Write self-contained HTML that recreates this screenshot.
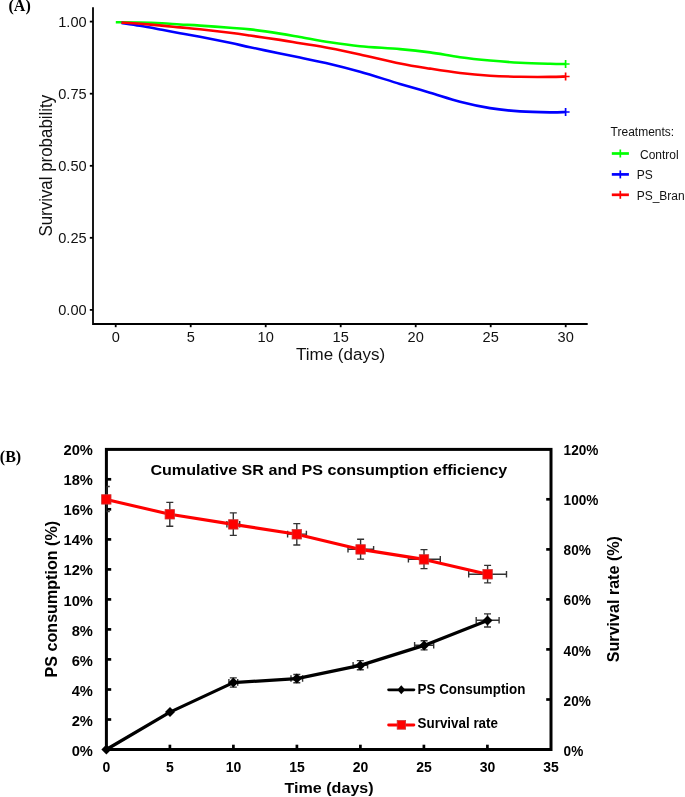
<!DOCTYPE html>
<html><head><meta charset="utf-8"><title>Survival charts</title>
<style>
html,body{margin:0;padding:0;background:#fff;}
svg{display:block;will-change:transform;}
text{font-family:"Liberation Sans",sans-serif;fill:#000;}
.lab{font-family:"Liberation Serif",serif;font-weight:bold;font-size:16px;}
.axA{stroke:#000;stroke-width:1.8;fill:none;}
.tkA{font-size:14.6px;fill:#111;}
.ttlA{font-size:17px;fill:#111;}
.ttlA2{font-size:16.9px;fill:#111;}
.cv{fill:none;stroke-width:2.6;stroke-linejoin:round;}
.cr{fill:none;stroke-width:1.7;}
.lg{font-size:12px;fill:#111;}
.tkB{stroke:#000;stroke-width:2.7;}
.tlB{font-size:14.7px;font-weight:bold;}
.trB{font-size:13.6px;font-weight:bold;}
.txB{font-size:14px;font-weight:bold;}
.box{fill:none;stroke:#000;stroke-width:3;}
.tiB{font-size:16.1px;font-weight:bold;}
.axtB{font-size:16.1px;font-weight:bold;}
.lgB{font-size:13.4px;font-weight:bold;}
.eb{fill:none;stroke:#333;stroke-width:1.4;}
.lnk{fill:none;stroke:#000;stroke-width:3.2;stroke-linejoin:round;stroke-linecap:round;}
.lnr{fill:none;stroke:#ff0000;stroke-width:3.1;stroke-linejoin:round;stroke-linecap:round;}
.dm{fill:#000;}
.sq{fill:#ff0000;stroke:#cc3333;stroke-width:0.8;}
</style></head>
<body>
<svg width="685" height="797" viewBox="0 0 685 797">
<text x="8.5" y="10.8" class="lab">(A)</text>
<path d="M93,7.3 V324 H587.7" class="axA"/>
<path d="M89.8,21.6 H93" class="axA"/>
<text transform="translate(86.60,26.90) scale(1,1.04)" class="tkA" text-anchor="end">1.00</text>
<path d="M89.8,93.7 H93" class="axA"/>
<text transform="translate(86.60,98.98) scale(1,1.04)" class="tkA" text-anchor="end">0.75</text>
<path d="M89.8,165.8 H93" class="axA"/>
<text transform="translate(86.60,171.06) scale(1,1.04)" class="tkA" text-anchor="end">0.50</text>
<path d="M89.8,237.8 H93" class="axA"/>
<text transform="translate(86.60,243.14) scale(1,1.04)" class="tkA" text-anchor="end">0.25</text>
<path d="M89.8,309.9 H93" class="axA"/>
<text transform="translate(86.60,315.20) scale(1,1.04)" class="tkA" text-anchor="end">0.00</text>
<path d="M115.7,324 V327.2" class="axA"/>
<text transform="translate(115.70,341.70) scale(1,1.04)" class="tkA" text-anchor="middle">0</text>
<path d="M190.7,324 V327.2" class="axA"/>
<text transform="translate(190.70,341.70) scale(1,1.04)" class="tkA" text-anchor="middle">5</text>
<path d="M265.7,324 V327.2" class="axA"/>
<text transform="translate(265.70,341.70) scale(1,1.04)" class="tkA" text-anchor="middle">10</text>
<path d="M340.7,324 V327.2" class="axA"/>
<text transform="translate(340.70,341.70) scale(1,1.04)" class="tkA" text-anchor="middle">15</text>
<path d="M415.7,324 V327.2" class="axA"/>
<text transform="translate(415.70,341.70) scale(1,1.04)" class="tkA" text-anchor="middle">20</text>
<path d="M490.7,324 V327.2" class="axA"/>
<text transform="translate(490.70,341.70) scale(1,1.04)" class="tkA" text-anchor="middle">25</text>
<path d="M565.7,324 V327.2" class="axA"/>
<text transform="translate(565.70,341.70) scale(1,1.04)" class="tkA" text-anchor="middle">30</text>
<text transform="translate(296.00,360.00) scale(1,0.98)" class="ttlA">Time (days)</text>
<text transform="translate(52.00,236.60) rotate(-90) scale(1,1.04)" class="ttlA2">Survival probability</text>
<path d="M115.80,22.30 C119.83,22.33 132.30,22.33 140.00,22.50 C147.70,22.67 155.33,22.97 162.00,23.30 C168.67,23.63 173.67,24.12 180.00,24.50 C186.33,24.88 191.67,25.05 200.00,25.60 C208.33,26.15 221.67,27.17 230.00,27.80 C238.33,28.43 241.67,28.43 250.00,29.40 C258.33,30.37 271.67,32.33 280.00,33.60 C288.33,34.87 291.67,35.55 300.00,37.00 C308.33,38.45 320.00,40.77 330.00,42.30 C340.00,43.83 348.33,45.07 360.00,46.20 C371.67,47.33 388.33,48.07 400.00,49.10 C411.67,50.13 420.00,51.05 430.00,52.40 C440.00,53.75 450.00,55.85 460.00,57.20 C470.00,58.55 480.00,59.58 490.00,60.50 C500.00,61.42 510.00,62.15 520.00,62.70 C530.00,63.25 542.40,63.58 550.00,63.80 C557.60,64.02 563.00,63.97 565.60,64.00" class="cv" stroke="#00ff00"/>
<path d="M121.50,22.90 C124.58,23.38 133.25,24.65 140.00,25.80 C146.75,26.95 155.33,28.57 162.00,29.80 C168.67,31.03 173.67,32.05 180.00,33.20 C186.33,34.35 191.67,35.10 200.00,36.70 C208.33,38.30 221.67,41.05 230.00,42.80 C238.33,44.55 241.67,45.42 250.00,47.20 C258.33,48.98 271.67,51.77 280.00,53.50 C288.33,55.23 291.67,55.87 300.00,57.60 C308.33,59.33 320.00,61.55 330.00,63.90 C340.00,66.25 348.33,68.37 360.00,71.70 C371.67,75.03 388.33,80.40 400.00,83.90 C411.67,87.40 420.00,89.73 430.00,92.70 C440.00,95.67 450.00,99.13 460.00,101.70 C470.00,104.27 480.00,106.48 490.00,108.10 C500.00,109.72 510.00,110.68 520.00,111.40 C530.00,112.12 542.40,112.30 550.00,112.40 C557.60,112.50 563.00,112.07 565.60,112.00" class="cv" stroke="#0000ff"/>
<path d="M121.50,22.60 C124.58,22.80 133.25,23.30 140.00,23.80 C146.75,24.30 155.33,25.00 162.00,25.60 C168.67,26.20 173.67,26.78 180.00,27.40 C186.33,28.02 191.67,28.40 200.00,29.30 C208.33,30.20 221.67,31.77 230.00,32.80 C238.33,33.83 241.67,34.32 250.00,35.50 C258.33,36.68 271.67,38.62 280.00,39.90 C288.33,41.18 291.67,41.82 300.00,43.20 C308.33,44.58 320.00,46.33 330.00,48.20 C340.00,50.07 348.33,51.87 360.00,54.40 C371.67,56.93 388.33,61.03 400.00,63.40 C411.67,65.77 420.00,67.00 430.00,68.60 C440.00,70.20 450.00,71.82 460.00,73.00 C470.00,74.18 480.00,75.07 490.00,75.70 C500.00,76.33 510.00,76.60 520.00,76.80 C530.00,77.00 542.40,76.95 550.00,76.90 C557.60,76.85 563.00,76.57 565.60,76.50" class="cv" stroke="#ff0000"/>
<path d="M561.6,64.0 H569.6 M565.6,60.0 V68.0" class="cr" stroke="#00ff00"/>
<path d="M561.6,76.5 H569.6 M565.6,72.5 V80.5" class="cr" stroke="#ff0000"/>
<path d="M561.6,112.0 H569.6 M565.6,108.0 V116.0" class="cr" stroke="#0000ff"/>
<text transform="translate(610.60,136.40) scale(1,1.04)" class="lg">Treatments:</text>
<path d="M611.8,153.5 H628.9" class="cr" style="stroke-width:2.7" stroke="#00ff00"/>
<path d="M620.3,149.5 V157.5" class="cr" stroke="#00ff00"/>
<text transform="translate(636.70,158.50) scale(1,1.04)" class="lg"> Control</text>
<path d="M611.8,174.4 H628.9" class="cr" style="stroke-width:2.7" stroke="#0000ff"/>
<path d="M620.3,170.4 V178.4" class="cr" stroke="#0000ff"/>
<text transform="translate(636.70,179.40) scale(1,1.04)" class="lg">PS</text>
<path d="M611.8,194.8 H628.9" class="cr" style="stroke-width:2.7" stroke="#ff0000"/>
<path d="M620.3,190.8 V198.8" class="cr" stroke="#ff0000"/>
<text transform="translate(636.70,199.80) scale(1,1.04)" class="lg">PS_Bran</text>
<text x="-0.2" y="461.9" class="lab">(B)</text>
<text transform="translate(92.90,755.95)" class="tlB" text-anchor="end">0%</text>
<path d="M106.4,719.5 H111.2" class="tkB"/>
<text transform="translate(92.90,725.87)" class="tlB" text-anchor="end">2%</text>
<path d="M106.4,689.5 H111.2" class="tkB"/>
<text transform="translate(92.90,695.79)" class="tlB" text-anchor="end">4%</text>
<path d="M106.4,659.4 H111.2" class="tkB"/>
<text transform="translate(92.90,665.71)" class="tlB" text-anchor="end">6%</text>
<path d="M106.4,629.4 H111.2" class="tkB"/>
<text transform="translate(92.90,635.63)" class="tlB" text-anchor="end">8%</text>
<path d="M106.4,599.4 H111.2" class="tkB"/>
<text transform="translate(92.90,605.55)" class="tlB" text-anchor="end">10%</text>
<path d="M106.4,569.4 H111.2" class="tkB"/>
<text transform="translate(92.90,575.47)" class="tlB" text-anchor="end">12%</text>
<path d="M106.4,539.4 H111.2" class="tkB"/>
<text transform="translate(92.90,545.39)" class="tlB" text-anchor="end">14%</text>
<path d="M106.4,509.3 H111.2" class="tkB"/>
<text transform="translate(92.90,515.31)" class="tlB" text-anchor="end">16%</text>
<path d="M106.4,479.3 H111.2" class="tkB"/>
<text transform="translate(92.90,485.23)" class="tlB" text-anchor="end">18%</text>
<text transform="translate(92.90,455.15)" class="tlB" text-anchor="end">20%</text>
<text transform="translate(563.60,755.70) scale(1,1.07)" class="trB">0%</text>
<path d="M546.2,699.5 H551" class="tkB"/>
<text transform="translate(563.60,705.60) scale(1,1.07)" class="trB">20%</text>
<path d="M546.2,649.4 H551" class="tkB"/>
<text transform="translate(563.60,655.50) scale(1,1.07)" class="trB">40%</text>
<path d="M546.2,599.4 H551" class="tkB"/>
<text transform="translate(563.60,605.40) scale(1,1.07)" class="trB">60%</text>
<path d="M546.2,549.4 H551" class="tkB"/>
<text transform="translate(563.60,555.30) scale(1,1.07)" class="trB">80%</text>
<path d="M546.2,499.3 H551" class="tkB"/>
<text transform="translate(563.60,505.20) scale(1,1.07)" class="trB">100%</text>
<text transform="translate(563.60,455.10) scale(1,1.07)" class="trB">120%</text>
<text transform="translate(106.40,772.10) scale(1,1.085)" class="txB" text-anchor="middle">0</text>
<path d="M169.9,744.7 V749.5" class="tkB"/>
<text transform="translate(169.90,772.10) scale(1,1.085)" class="txB" text-anchor="middle">5</text>
<path d="M233.4,744.7 V749.5" class="tkB"/>
<text transform="translate(233.40,772.10) scale(1,1.085)" class="txB" text-anchor="middle">10</text>
<path d="M296.9,744.7 V749.5" class="tkB"/>
<text transform="translate(296.90,772.10) scale(1,1.085)" class="txB" text-anchor="middle">15</text>
<path d="M360.4,744.7 V749.5" class="tkB"/>
<text transform="translate(360.40,772.10) scale(1,1.085)" class="txB" text-anchor="middle">20</text>
<path d="M423.9,744.7 V749.5" class="tkB"/>
<text transform="translate(423.90,772.10) scale(1,1.085)" class="txB" text-anchor="middle">25</text>
<path d="M487.4,744.7 V749.5" class="tkB"/>
<text transform="translate(487.40,772.10) scale(1,1.085)" class="txB" text-anchor="middle">30</text>
<text transform="translate(550.90,772.10) scale(1,1.085)" class="txB" text-anchor="middle">35</text>
<rect x="106.4" y="449.4" width="444.6" height="300.1" class="box"/>
<text transform="translate(150.40,475.10) scale(1,0.965)" class="tiB">Cumulative SR and PS consumption efficiency</text>
<text transform="translate(284.50,793.00) scale(1,0.955)" class="axtB">Time (days)</text>
<text transform="translate(56.90,677.40) rotate(-90) scale(1,1.05)" class="axtB">PS consumption (%)</text>
<text transform="translate(619.40,662.20) rotate(-90) scale(1,1.05)" class="axtB">Survival rate (%)</text>
<defs><clipPath id="pa"><rect x="106.4" y="449.4" width="444.6" height="300.1"/></clipPath></defs>
<g clip-path="url(#pa)"><path d="M233.3,677.9 V687.1 M229.8,677.9 H236.8 M229.8,687.1 H236.8 M228.9,682.4 H237.7 M228.9,679.1 V685.7 M237.7,679.1 V685.7 M296.8,674.5 V682.7 M293.3,674.5 H300.3 M293.3,682.7 H300.3 M291.0,678.5 H302.6 M291.0,675.2 V681.8 M302.6,675.2 V681.8 M360.3,660.6 V669.8 M356.8,660.6 H363.8 M356.8,669.8 H363.8 M353.1,665.2 H367.6 M353.1,661.9 V668.5 M367.6,661.9 V668.5 M424.1,640.7 V649.9 M420.6,640.7 H427.6 M420.6,649.9 H427.6 M414.6,645.2 H433.7 M414.6,641.9 V648.5 M433.7,641.9 V648.5 M487.5,613.9 V627.0 M484.0,613.9 H491.0 M484.0,627.0 H491.0 M476.2,620.3 H499.1 M476.2,617.0 V623.6 M499.1,617.0 V623.6" class="eb"/>
<path d="M106.3,486.5 V511.6 M102.8,486.5 H109.8 M102.8,511.6 H109.8 M169.8,502.4 V526.2 M166.3,502.4 H173.3 M166.3,526.2 H173.3 M233.3,512.9 V535.4 M229.8,512.9 H236.8 M229.8,535.4 H236.8 M226.9,524.2 H239.7 M226.9,520.9 V527.5 M239.7,520.9 V527.5 M296.8,523.6 V545.0 M293.3,523.6 H300.3 M293.3,545.0 H300.3 M287.6,534.1 H306.4 M287.6,530.8 V537.4 M306.4,530.8 V537.4 M360.6,539.3 V559.1 M357.1,539.3 H364.1 M357.1,559.1 H364.1 M348.0,549.2 H373.6 M348.0,545.9 V552.5 M373.6,545.9 V552.5 M424.0,549.6 V568.6 M420.5,549.6 H427.5 M420.5,568.6 H427.5 M408.4,559.2 H440.3 M408.4,555.9 V562.5 M440.3,555.9 V562.5 M487.6,565.4 V582.9 M484.1,565.4 H491.1 M484.1,582.9 H491.1 M468.7,574.2 H506.5 M468.7,570.9 V577.5 M506.5,570.9 V577.5" class="eb"/></g>
<polyline points="106.4,749.5 170.0,712.1 233.3,682.6 296.8,678.6 360.3,665.4 424.1,645.4 487.5,620.4" class="lnk"/>
<path d="M106.4,744.5 l5,5 l-5,5 l-5,-5 z" class="dm"/>
<path d="M170.0,707.1 l5,5 l-5,5 l-5,-5 z" class="dm"/>
<path d="M233.3,677.6 l5,5 l-5,5 l-5,-5 z" class="dm"/>
<path d="M296.8,673.6 l5,5 l-5,5 l-5,-5 z" class="dm"/>
<path d="M360.3,660.4 l5,5 l-5,5 l-5,-5 z" class="dm"/>
<path d="M424.1,640.4 l5,5 l-5,5 l-5,-5 z" class="dm"/>
<path d="M487.5,615.4 l5,5 l-5,5 l-5,-5 z" class="dm"/>
<polyline points="106.3,499.4 169.8,514.3 233.3,524.4 296.8,534.3 360.6,549.4 424.0,559.4 487.6,574.3" class="lnr"/>
<rect x="101.6" y="494.7" width="9.4" height="9.4" class="sq"/>
<rect x="165.1" y="509.6" width="9.4" height="9.4" class="sq"/>
<rect x="228.6" y="519.7" width="9.4" height="9.4" class="sq"/>
<rect x="292.1" y="529.6" width="9.4" height="9.4" class="sq"/>
<rect x="355.9" y="544.7" width="9.4" height="9.4" class="sq"/>
<rect x="419.3" y="554.7" width="9.4" height="9.4" class="sq"/>
<rect x="482.9" y="569.6" width="9.4" height="9.4" class="sq"/>
<path d="M388.6,689.8 H413.9" class="lnk" style="stroke-width:2.8"/>
<path d="M401.3,685.3 l3.9,4.5 l-3.9,4.5 l-3.9,-4.5 z" class="dm"/>
<text transform="translate(417.60,693.60) scale(1,1.04)" class="lgB">PS Consumption</text>
<path d="M388.6,725 H413.9" class="lnr" style="stroke-width:2.8"/>
<rect x="397.2" y="720.6" width="8.4" height="8.6" class="sq"/>
<text transform="translate(417.60,728.40) scale(1,1.04)" class="lgB">Survival rate</text>
</svg>
</body></html>
